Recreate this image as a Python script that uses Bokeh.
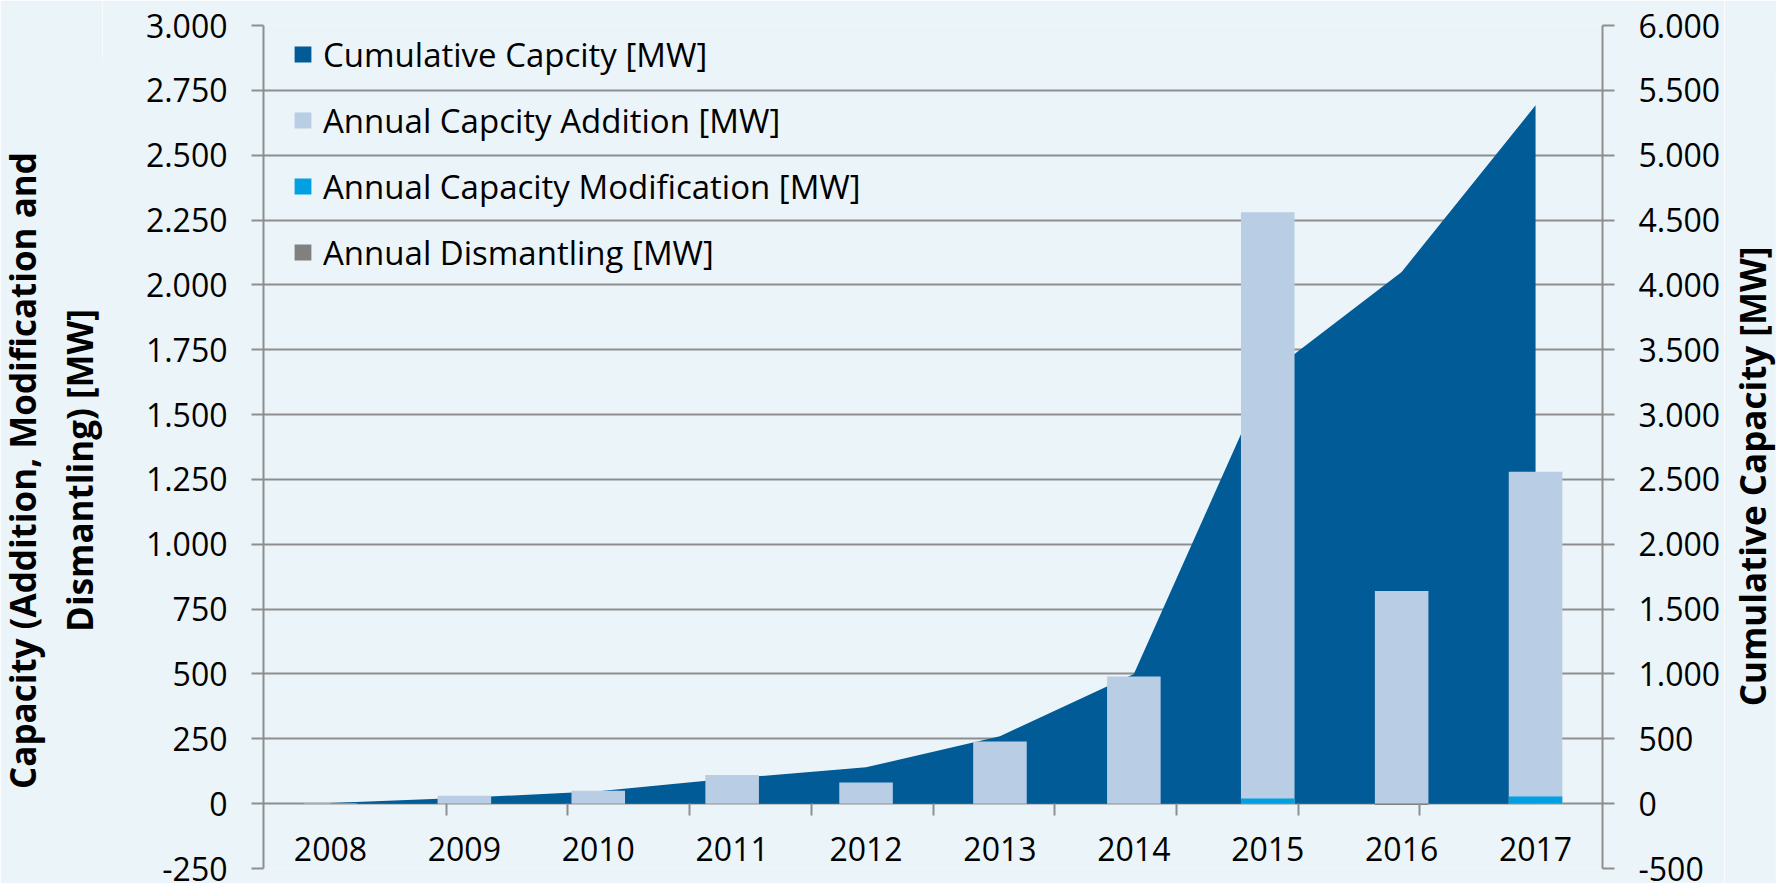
from bokeh.plotting import figure
from bokeh.layouts import row
from bokeh.models import (FactorRange, Range1d, LinearAxis, FixedTicker,
                          CategoricalAxis, Legend, LegendItem, ColumnDataSource)
from bokeh.embed import file_html
from bokeh.resources import INLINE

# ---- data ----
years = ["2008", "2009", "2010", "2011", "2012", "2013", "2014", "2015", "2016", "2017"]
cumulative = [5, 45, 95, 195, 280, 520, 1000, 3310, 4100, 5385]
addition = [2, 30, 50, 110, 82, 240, 490, 2280, 820, 1280]
modification = [0, 0, 0, 0, 0, 0, 0, 20, 0, 28]
dismantling = [0, 0, 0, 0, 0, 0, 0, 0, -5, 0]
left_ticks = [-250, 0, 250, 500, 750, 1000, 1250, 1500, 1750, 2000, 2250, 2500, 2750, 3000]
right_ticks = [-500, 0, 500, 1000, 1500, 2000, 2500, 3000, 3500, 4000, 4500, 5000, 5500, 6000]
left_title = "Capacity (Addition, Modification and\nDismantling) [MW]"
right_title = "Cumulative Capacity [MW]"
legend_labels = ["Cumulative Capcity [MW]", "Annual Capcity Addition [MW]",
                 "Annual Capacity Modification [MW]", "Annual Dismantling [MW]"]

BG = "#EBF4F8"
CUM = "#005B96"
ADD = "#B9CDE5"
MOD = "#00A0E3"
DIS = "#808080"
GRID = "#8E8E8E"
FONT = "Open Sans"

H = 883
W0, W, W2 = 102, 1622, 52          # left title strip, chart, right title strip
MB_L, MB_R, MB_T, MB_B = 161, 122, 25, 15
FRAME_H = H - MB_T - MB_B


def fmt(v):
    return f"{v:,}".replace(",", ".")


def unalign(fig):
    try:
        fig.frame_align = False
        return True
    except Exception:
        return False


src = ColumnDataSource(dict(year=years, cum=cumulative, add=addition,
                            mod=modification, dis=dismantling))

p = figure(x_range=FactorRange(factors=years), y_range=Range1d(left_ticks[0], left_ticks[-1]),
           width=W, height=H, output_backend="svg", toolbar_location=None,
           min_border_left=MB_L, min_border_right=MB_R, min_border_top=MB_T, min_border_bottom=MB_B,
           background_fill_color=BG, border_fill_color=BG, outline_line_color=None,
           x_axis_location=None)
free = unalign(p)


def title_strip(width, text, top_border, bottom_border):
    """A narrow figure whose only visible content is a rotated axis title."""
    f = figure(width=width, height=H, x_range=Range1d(0, 1), y_range=Range1d(0, 1),
               output_backend="svg", toolbar_location=None,
               min_border_left=width - 1, min_border_right=0,
               min_border_top=top_border, min_border_bottom=bottom_border,
               background_fill_color=BG, border_fill_color=BG, outline_line_color=None)
    unalign(f)
    f.xaxis.visible = False
    for g in f.grid:
        g.visible = False
    ax = f.yaxis[0]
    ax.ticker = FixedTicker(ticks=[])
    ax.axis_line_color = None
    ax.major_tick_out = 0
    ax.major_tick_in = 0
    ax.minor_tick_out = 0
    ax.minor_tick_in = 0
    ax.major_label_text_font_size = "0px"
    ax.axis_label = text
    ax.axis_label_standoff = 0
    ax.axis_label_text_font = FONT
    ax.axis_label_text_font_size = "35px"
    ax.axis_label_text_font_style = "bold"
    ax.axis_label_text_color = "black"
    return f


p.extra_y_ranges = {"cum": Range1d(right_ticks[0], right_ticks[-1])}
# boundaries between categories as factors of a second categorical range
boundaries = [f"b{i}" for i in range(1, len(years))]
p.extra_x_ranges = {"bnd": FactorRange(factors=boundaries, range_padding=1,
                                       range_padding_units="absolute")}

# grid
for g in p.xgrid:
    g.visible = False
p.ygrid.ticker = FixedTicker(ticks=left_ticks)
p.ygrid.grid_line_color = GRID
p.ygrid.grid_line_width = 2

# left axis
ya = p.yaxis[0]
ya.ticker = FixedTicker(ticks=left_ticks)
ya.major_label_overrides = {t: fmt(t) for t in left_ticks}
ya.axis_line_color = GRID
ya.axis_line_width = 2
ya.major_tick_line_color = GRID
ya.major_tick_line_width = 2
ya.major_tick_out = 12
ya.major_tick_in = 0
ya.minor_tick_out = 0
ya.minor_tick_in = 0
ya.major_label_standoff = 24
ya.major_label_text_font = FONT
ya.major_label_text_font_size = "32px"
ya.major_label_text_color = "black"

# right axis
ra = LinearAxis(y_range_name="cum", ticker=FixedTicker(ticks=right_ticks),
                major_label_overrides={t: fmt(t) for t in right_ticks},
                axis_line_color=GRID, axis_line_width=2,
                major_tick_line_color=GRID, major_tick_line_width=2,
                major_tick_out=12, major_tick_in=0, minor_tick_out=0, minor_tick_in=0,
                major_label_standoff=24, major_label_text_font=FONT,
                major_label_text_font_size="32px", major_label_text_color="black")
p.add_layout(ra, "right")

# category labels axis fixed at y=0
ca = CategoricalAxis(fixed_location=0, axis_line_color=None, major_tick_out=0, major_tick_in=0,
                     minor_tick_out=0, minor_tick_in=0, major_label_standoff=33,
                     major_label_text_font=FONT, major_label_text_font_size="32px",
                     major_label_text_color="black")
p.add_layout(ca, "below")

# boundary ticks between categories
ba = CategoricalAxis(x_range_name="bnd", fixed_location=0,
                     axis_line_color=None, major_tick_line_color=GRID, major_tick_line_width=2,
                     major_tick_out=12, major_tick_in=0, minor_tick_out=0, minor_tick_in=0,
                     major_label_text_color=None, major_label_text_font_size="1px")
p.add_layout(ba, "below")

# glyphs
r_cum = p.varea(x="year", y1=0, y2="cum", source=src, y_range_name="cum", fill_color=CUM)
r_add = p.vbar(x="year", top="add", bottom=0, width=0.4, source=src,
               fill_color=ADD, line_color=None)
r_mod = p.vbar(x="year", top="mod", bottom=0, width=0.4, source=src,
               fill_color=MOD, line_color=None)
r_dis = p.vbar(x="year", top="dis", bottom=0, width=0.4, source=src,
               fill_color=DIS, line_color=None)

legend = Legend(items=[LegendItem(label=legend_labels[0], renderers=[r_cum]),
                       LegendItem(label=legend_labels[1], renderers=[r_add]),
                       LegendItem(label=legend_labels[2], renderers=[r_mod]),
                       LegendItem(label=legend_labels[3], renderers=[r_dis])],
                location=(29, FRAME_H + 4 - 264), orientation="vertical",
                background_fill_alpha=0, border_line_color=None,
                label_text_font=FONT, label_text_font_size="33px", label_text_color="black",
                glyph_width=21, glyph_height=20, label_standoff=10, spacing=0,
                label_height=66, padding=0, margin=0)
p.add_layout(legend)

if free:
    left_strip = title_strip(W0, left_title, 57, 0)
    right_strip = title_strip(W2, right_title, 69, 0)
else:
    left_strip = title_strip(W0, left_title, MB_T, MB_B)
    right_strip = title_strip(W2, right_title, MB_T, MB_B)

layout = row(left_strip, p, right_strip, spacing=0)
open("out.html", "w").write(file_html(layout, INLINE))
